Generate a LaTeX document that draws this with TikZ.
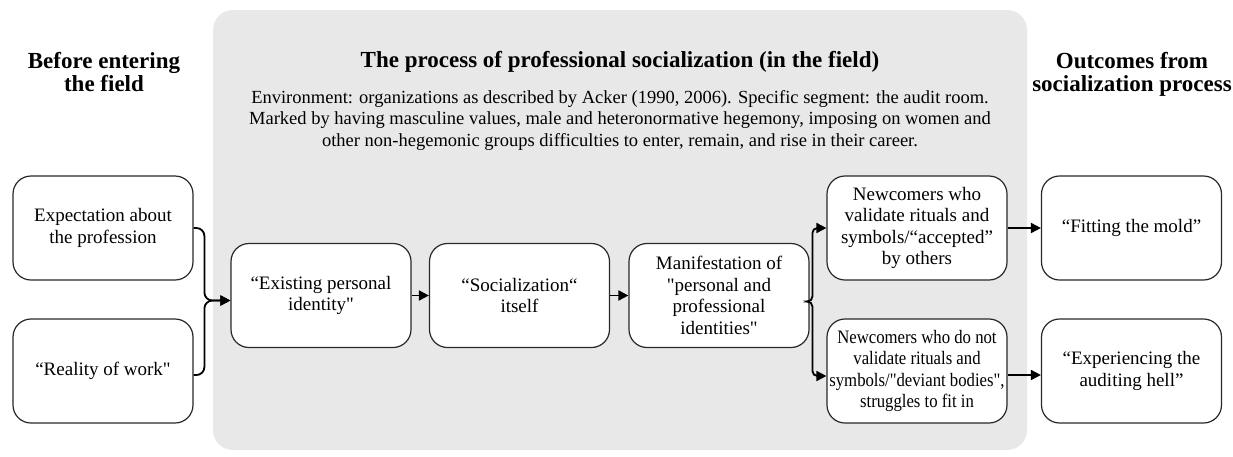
\documentclass[tikz,border=0pt]{standalone}
\usepackage{fontspec}
\setmainfont{Liberation Serif}[Ligatures=TeXOff]
\newfontfamily\condensed{Liberation Serif}[Ligatures=TeXOff,FakeStretch=0.88]
\usetikzlibrary{arrows.meta,calc}
\definecolor{panelgray}{RGB}{232,232,232}
\definecolor{edge}{RGB}{40,40,40}
\begin{document}
\begin{tikzpicture}[x=1pt,y=-1pt,
  box/.style={draw=edge, line width=1.2pt, rounded corners=18pt, fill=white,
    minimum width=180pt, minimum height=104pt, align=center, inner sep=2pt,
    font=\fontsize{19}{21.5}\selectfont},
  head/.style={align=center, font=\fontsize{23}{23.5}\selectfont\bfseries, anchor=base},
  envtext/.style={align=center, font=\fontsize{18.5}{21.5}\selectfont, anchor=base},
  conn/.style={line width=1.8pt, draw=black, -{Triangle[length=10pt,width=10pt]}},
]
\useasboundingbox (0,0) rectangle (1233,456);
\node[fill=panelgray, rounded corners=20pt, minimum width=814pt, minimum height=440pt, inner sep=0pt] (panel) at (620,230) {};

\node[head] (h1) at (104,91.5) {Before entering\\the field};
\node[head] (h2) at (620,67) {The process of professional socialization (in the field)};
\node[head] (h3) at (1132,91.5) {Outcomes from\\socialization process};
\node[envtext] (env) at (620,146) {Environment: organizations as described by Acker (1990, 2006). Specific segment: the audit room.\\Marked by having masculine values, male and heteronormative hegemony, imposing on women and\\other non-hegemonic groups difficulties to enter, remain, and rise in their career.};

\node[box] (exp) at (103,228) {Expectation about\\the profession};
\node[box] (real) at (103,371) {“Reality of work"};
\node[box] (exist) at (321,295.5) {“Existing personal\\identity"};
\node[box] (soc) at (519.5,295.5) {“Socialization“\\itself};
\node[box] (man) at (719,295.5) {Manifestation of\\"personal and\\professional\\identities"};
\node[box] (nv) at (917,228) {Newcomers who\\validate rituals and\\symbols/“accepted”\\by others};
\node[box, font=\fontsize{19}{21.5}\condensed] (nn) at (917,371) {Newcomers who do not\\validate rituals and\\symbols/"deviant bodies",\\struggles to fit in};
\node[box] (fit) at (1131.5,228) {“Fitting the mold”};
\node[box] (hell) at (1131.5,371) {“Experiencing the\\auditing hell”};

\draw[conn, rounded corners=8pt] (exp.east) -| ($(exist.west)+(-26,5)$) -- ($(exist.west)+(0,5)$);
\draw[conn, rounded corners=8pt] ($(real.east)+(0,4)$) -| ($(exist.west)+(-26,5)$) -- ($(exist.west)+(0,5)$);
\draw[conn] (exist.east) -- (soc.west);
\draw[conn] (soc.east) -- (man.west);
\coordinate (bp) at ($(man.east)+(0,6)$);
\draw[conn, rounded corners=5pt] (bp) -| ($(nv.west)+(-14,0)$) -- (nv.west);
\draw[conn, rounded corners=5pt] (bp) -| ($(nn.west)+(-14,5)$) -- ($(nn.west)+(0,5)$);
\draw[conn] (nv.east) -- (fit.west);
\draw[conn] ($(nn.east)+(0,4)$) -- ($(hell.west)+(0,4)$);
\end{tikzpicture}
\end{document}
